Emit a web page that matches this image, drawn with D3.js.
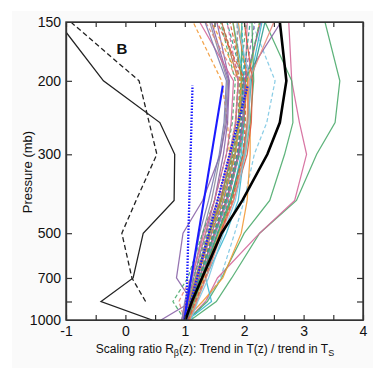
<!DOCTYPE html>
<html>
<head>
<meta charset="utf-8">
<script src="https://cdn.jsdelivr.net/npm/d3@7"></script>
<style>
  body { margin: 0; background: #fff; }
  svg { display: block; font-family: "Liberation Sans", Arial, Helvetica, sans-serif; }
  .axis text { font-size: 14px; fill: #111; }
  .axis path, .axis line { stroke: #333; stroke-width: 1.2; }
</style>
</head>
<body>
<div id="container"></div>
<script>
// pressure levels (mb) shared by all profiles
var levels = [1000, 850, 700, 500, 400, 300, 250, 200, 150];

// observations (black)
var obsSolid  = [0.45, -0.41, 0.13, 0.30, 0.82, 0.83, 0.58, -0.37, -1.13];
var obsDashed = [null, 0.34, 0.11, -0.06, 0.18, 0.53, 0.40, 0.23, -0.92];
var thickBlack = [1.01, 1.12, 1.29, 1.62, 1.97, 2.39, 2.60, 2.71, 2.60];

// blue reference lines, only 1000 -> 205 mb
var blueLevels = [1000, 205];
var blueDottedLow  = [1.02, 1.13];
var blueSolid      = [0.99, 1.64];
var blueDottedHigh = [1.02, 2.06];

// model profiles, one row per model, values at `levels`
var modelRatios = [
  [1.00, 1.08, 1.18, 1.40, 1.60, 1.80, 1.90, 1.95, 1.96],
  [1.05, 1.15, 1.28, 1.52, 1.72, 1.92, 2.00, 2.02, 2.05],
  [1.00, 1.10, 1.20, 1.45, 1.62, 1.75, 1.72, 1.62, 1.14],
  [1.10, 1.20, 1.35, 1.60, 1.78, 1.95, 2.00, 2.00, 1.81],
  [0.95, 1.05, 1.15, 1.35, 1.50, 1.65, 1.72, 1.75, 1.54],
  [1.02, 1.12, 1.25, 1.50, 1.70, 1.90, 1.98, 2.06, 1.88],
  [0.98, 1.08, 1.20, 1.45, 1.65, 1.85, 1.94, 1.98, 1.71],
  [1.05, 1.12, 1.22, 1.42, 1.60, 1.78, 1.86, 1.90, 1.62],
  [0.95, 1.02, 1.12, 1.30, 1.45, 1.60, 1.68, 1.72, 1.42],
  [1.10, 1.35, 1.60, 1.84, 2.00, 2.17, 2.38, 2.52, 2.13],
  [1.10, 1.53, 1.79, 2.26, 2.88, 3.22, 3.53, 3.61, 3.36],
  [1.05, 1.35, 1.55, 2.26, 2.85, 3.05, 2.93, 2.80, 2.75],
  [1.05, 1.38, 1.62, 2.00, 2.43, 2.68, 2.82, 2.80, 2.35],
  [1.00, 1.10, 1.20, 1.45, 1.65, 1.85, 1.92, 1.99, 2.62],
  [1.00, 1.30, 1.64, 1.95, 2.05, 2.10, 2.10, 2.05, 1.90],
  [1.05, 1.45, 1.35, 1.70, 1.90, 2.00, 2.05, 2.10, 2.30],
  [0.60, 1.12, 0.86, 0.97, 1.30, 1.60, 1.70, 1.74, 1.45],
  [1.00, 0.80, 1.05, 1.30, 1.50, 1.70, 1.80, 1.85, 1.60],
  [1.00, 0.90, 1.10, 1.35, 1.55, 1.75, 1.85, 1.90, 1.35],
  [0.98, 1.05, 1.15, 1.38, 1.58, 1.82, 1.90, 1.92, 2.04],
  [1.05, 1.15, 1.30, 1.55, 1.74, 1.90, 1.95, 1.98, 1.76],
  [1.02, 1.10, 1.22, 1.48, 1.68, 1.88, 1.96, 2.00, 2.18],
  [1.08, 1.18, 1.32, 1.58, 1.78, 1.98, 2.05, 2.06, 2.26],
  [0.96, 1.04, 1.14, 1.36, 1.55, 1.76, 1.85, 1.90, 1.88],
  [1.00, 1.12, 1.26, 1.52, 1.72, 1.92, 1.98, 2.00, 1.96],
  [0.95, 1.02, 1.12, 1.32, 1.50, 1.70, 1.78, 1.82, 1.25],
  [1.04, 1.14, 1.28, 1.55, 1.76, 1.98, 2.06, 2.12, 2.35],
  [1.00, 1.08, 1.20, 1.42, 1.62, 1.82, 1.90, 1.94, 1.62],
  [1.06, 1.16, 1.30, 1.56, 1.78, 2.02, 2.10, 2.16, 2.13],
  [0.98, 1.06, 1.18, 1.42, 1.62, 1.84, 1.92, 1.96, 1.81],
  [1.02, 1.14, 1.28, 1.60, 1.82, 2.05, 2.12, 2.14, 2.00],
  [0.98, 1.06, 1.18, 1.40, 1.58, 1.78, 1.86, 1.90, 1.71],
  [1.00, 1.10, 1.22, 1.46, 1.66, 1.86, 1.92, 1.94, 1.45],
  [1.04, 1.12, 1.24, 1.50, 1.70, 1.90, 1.97, 2.02, 2.28],
  [1.10, 1.22, 1.40, 1.65, 1.85, 2.02, 2.08, 2.10, 1.88],
  [0.95, 1.00, 1.10, 1.25, 1.40, 1.58, 1.66, 1.70, 1.34],
  [1.08, 1.20, 1.36, 1.62, 1.82, 2.00, 2.06, 2.08, 2.50],
  [1.02, 1.12, 1.26, 1.50, 1.70, 1.92, 2.00, 2.04, 2.26],
  [1.00, 1.10, 1.24, 1.48, 1.68, 1.88, 1.95, 1.98, 2.10],
  [1.06, 1.18, 1.34, 1.60, 1.80, 1.98, 2.02, 2.02, 1.54]
];
var modelColors = [
  "#4dab6d", "#d4689a", "#f29a38", "#3bb6cf", "#8a64a8", "#e0583c", "#2f9a8c", "#b5714a",
  "#8c8c9c", "#7ec8e3", "#4dab6d", "#d4689a", "#4dab6d", "#8a64a8", "#f29a38", "#3bb6cf",
  "#8a64a8", "#4dab6d", "#e88a7a", "#4dab6d", "#e0583c", "#8a64a8", "#f29a38", "#8c8c9c",
  "#3bb6cf", "#d4689a", "#2f9a8c", "#b5714a", "#4dab6d", "#9aa040", "#e0583c", "#d4689a",
  "#f29a38", "#8a64a8", "#7ec8e3", "#7a7ab0", "#e88a7a", "#4dab6d", "#2f9a8c", "#e0583c"
];
var modelDashed = [
  0, 0, 1, 0, 0, 0, 1, 0, 0, 1, 0, 0, 0, 0, 0, 0, 0, 1, 1, 1,
  1, 1, 0, 1, 1, 0, 0, 1, 0, 0, 0, 1, 1, 0, 0, 0, 0, 1, 1, 1
];

var xTicks = [-1, -0.5, 0, 0.5, 1, 1.5, 2, 2.5, 3, 3.5, 4];
var yLabelTicks = [150, 200, 300, 500, 700, 1000];
var ySideTicks = [200, 300, 500, 700, 850];

var width = 391, height = 370;
var plotL = 66, plotR = 363, plotT = 22, plotB = 320;

var svg = d3.select("#container").append("svg")
    .attr("width", width)
    .attr("height", height);

svg.append("rect")
    .attr("x", 12).attr("y", 11).attr("width", 361).attr("height", 357)
    .attr("fill", "#fafafa");
svg.append("rect")
    .attr("x", plotL).attr("y", plotT).attr("width", plotR - plotL).attr("height", plotB - plotT)
    .attr("fill", "#fff");

var x = d3.scaleLinear().domain([-1, 4]).range([plotL, plotR]);
var y = d3.scalePow().exponent(-0.35).domain([150, 1000]).range([plotT, plotB]);

svg.append("clipPath").attr("id", "clip")
  .append("rect")
    .attr("x", plotL).attr("y", plotT).attr("width", plotR - plotL).attr("height", plotB - plotT);

var plot = svg.append("g").attr("clip-path", "url(#clip)");

function profile(levs) {
  return d3.line()
      .defined(function(d) { return d != null; })
      .x(function(d) { return x(d); })
      .y(function(d, i) { return y(levs[i]); });
}
var line = profile(levels);
var blueLine = profile(blueLevels);

modelRatios.forEach(function(vals, i) {
  plot.append("path")
      .attr("d", line(vals))
      .attr("fill", "none")
      .attr("stroke", modelColors[i])
      .attr("stroke-width", 1.25)
      .attr("stroke-opacity", 0.9)
      .attr("stroke-dasharray", modelDashed[i] ? "4,2.5" : null);
});

plot.append("path").attr("d", blueLine(blueDottedLow))
    .attr("fill", "none").attr("stroke", "#1a1aff").attr("stroke-width", 2.3).attr("stroke-dasharray", "1.5,1.5");
plot.append("path").attr("d", blueLine(blueSolid))
    .attr("fill", "none").attr("stroke", "#1a1aff").attr("stroke-width", 2.1);
plot.append("path").attr("d", blueLine(blueDottedHigh))
    .attr("fill", "none").attr("stroke", "#1a1aff").attr("stroke-width", 2.3).attr("stroke-dasharray", "1.5,1.5");

plot.append("path").attr("d", line(obsSolid))
    .attr("fill", "none").attr("stroke", "#222").attr("stroke-width", 1.3);
plot.append("path").attr("d", line(obsDashed))
    .attr("fill", "none").attr("stroke", "#222").attr("stroke-width", 1.3).attr("stroke-dasharray", "5,3");
plot.append("path").attr("d", line(thickBlack))
    .attr("fill", "none").attr("stroke", "#000").attr("stroke-width", 2.6);

// axes, ticks point inward
svg.append("g").attr("class", "axis")
    .attr("transform", "translate(0," + plotB + ")")
    .call(d3.axisBottom(x).tickValues(xTicks).tickSizeInner(-5).tickSizeOuter(0).tickPadding(6)
      .tickFormat(function(d) { return d % 1 === 0 ? (d < 0 ? "-" + (-d) : d) : ""; }));
svg.append("g").attr("class", "axis")
    .attr("transform", "translate(0," + plotT + ")")
    .call(d3.axisTop(x).tickValues(xTicks).tickSizeInner(-5).tickSizeOuter(0).tickFormat(""));
svg.append("g").attr("class", "axis")
    .attr("transform", "translate(" + plotL + ",0)")
    .call(d3.axisLeft(y).tickValues(yLabelTicks).tickSizeInner(0).tickSizeOuter(0).tickPadding(5)
      .tickFormat(d3.format("d")));
svg.append("g").attr("class", "axis")
    .attr("transform", "translate(" + plotL + ",0)")
    .call(d3.axisLeft(y).tickValues(ySideTicks).tickSizeInner(-6).tickSizeOuter(0).tickFormat(""));
svg.append("g").attr("class", "axis")
    .attr("transform", "translate(" + plotR + ",0)")
    .call(d3.axisRight(y).tickValues(ySideTicks).tickSizeInner(-6).tickSizeOuter(0).tickFormat(""));

svg.append("rect")
    .attr("x", plotL).attr("y", plotT).attr("width", plotR - plotL).attr("height", plotB - plotT)
    .attr("fill", "none").attr("stroke", "#333").attr("stroke-width", 1.4);

svg.append("text")
    .attr("x", 122).attr("y", 54)
    .attr("text-anchor", "middle")
    .attr("font-size", 15).attr("font-weight", "bold").attr("fill", "#111")
    .text("B");

svg.append("text")
    .attr("transform", "translate(32,172) rotate(-90)")
    .attr("text-anchor", "middle")
    .attr("font-size", 13).attr("fill", "#111")
    .text("Pressure (mb)");

var xl = svg.append("text")
    .attr("x", 215).attr("y", 353)
    .attr("text-anchor", "middle")
    .attr("font-size", 12).attr("fill", "#111");
xl.append("tspan").text("Scaling ratio R");
xl.append("tspan").attr("font-size", 9).attr("dy", 3).text("\u03b2");
xl.append("tspan").attr("dy", -3).text("(z): Trend in T(z) / trend in T");
xl.append("tspan").attr("font-size", 9).attr("dy", 3).text("S");
</script>
</body>
</html>
